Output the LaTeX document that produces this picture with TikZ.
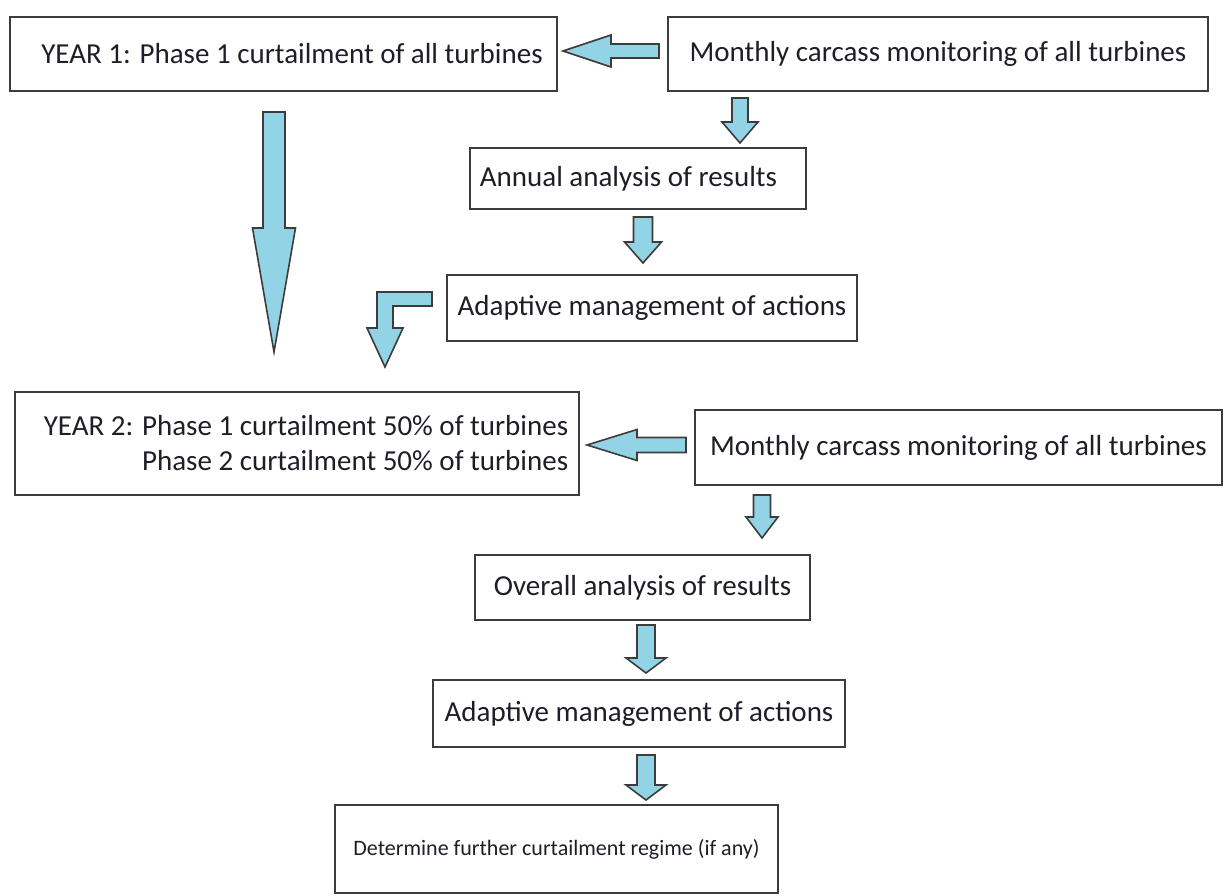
\documentclass[tikz,border=0pt]{standalone}
\usepackage{fontspec}
\setmainfont{Carlito}
\definecolor{arrowfill}{RGB}{147,211,230}
\definecolor{edgegray}{RGB}{60,60,60}
\definecolor{txt}{RGB}{30,30,40}
\tikzset{
  box/.style={draw=edgegray, line width=1.6pt, inner sep=0pt, text=txt,
    font=\fontsize{29}{35}\selectfont},
  blockarrow/.style={draw=edgegray, fill=arrowfill, line width=1.6pt, line join=miter},
}
% cx, ytop, ybase, ytip, shaft half width, head half width
\newcommand\blockdown[6]{%
  \draw[blockarrow] ({#1-#5},#2) -- ({#1+#5},#2) -- ({#1+#5},#3) -- ({#1+#6},#3)
    -- (#1,#4) -- ({#1-#6},#3) -- ({#1-#5},#3) -- cycle;}
% cy, xtail, xbase, xtip, shaft half, head half
\newcommand\blockleft[6]{%
  \draw[blockarrow] (#2,{#1-#5}) -- (#2,{#1+#5}) -- (#3,{#1+#5}) -- (#3,{#1+#6})
    -- (#4,#1) -- (#3,{#1-#6}) -- (#3,{#1-#5}) -- cycle;}
\begin{document}
\begin{tikzpicture}[x=1pt,y=-1pt]
\useasboundingbox (0,0) rectangle (1226,896);

% boxes
\node[box, minimum width=547pt, minimum height=74pt] (y1) at (283.5,54)
  {\hspace*{17pt}YEAR 1: Phase 1 curtailment of all turbines};
\node[box, minimum width=540pt, minimum height=74pt] (m1) at (938,54)
  {Monthly carcass monitoring of all turbines};
\node[box, minimum width=336pt, minimum height=61pt] (an) at (638,178.5)
  {Annual analysis of results\hspace*{19pt}};
\node[box, minimum width=410pt, minimum height=66pt] (ad1) at (652,308)
  {Adaptive management of actions};
\node[box, minimum width=564pt, minimum height=103pt, align=right] (y2) at (297,443.5)
  {\hspace*{18pt}YEAR 2: Phase 1 curtailment 50\% of turbines\\Phase 2 curtailment 50\% of turbines};
\node[box, minimum width=527pt, minimum height=75pt] (m2) at (958.5,447.5)
  {Monthly carcass monitoring of all turbines};
\node[box, minimum width=335pt, minimum height=65pt] (ov) at (642.5,587.5)
  {Overall analysis of results};
\node[box, minimum width=412pt, minimum height=67pt] (ad2) at (639,713.5)
  {Adaptive management of actions};
\node[box, minimum width=443pt, minimum height=88pt, font=\fontsize{22}{27}\selectfont] (det) at (556.5,849)
  {Determine further curtailment regime (if any)};

% block arrows
\blockleft{51}{659}{611}{563}{7}{16}
\blockleft{445}{686}{637}{587}{7.5}{15.5}
\blockdown{740}{98}{122}{143}{8}{18}
\blockdown{643}{217}{242}{263}{9.5}{18.5}
\blockdown{274}{112}{228}{352}{11}{21.5}
\blockdown{762}{495}{517}{538}{8.5}{16}
\blockdown{646}{625}{658}{673}{9}{20}
\blockdown{646}{755}{785}{800}{9}{20}
\draw[blockarrow] (432,292) -- (377,292) -- (377,328) -- (367,328) -- (385,367)
  -- (403,328) -- (393,328) -- (393,306) -- (432,306) -- cycle;
\end{tikzpicture}
\end{document}
